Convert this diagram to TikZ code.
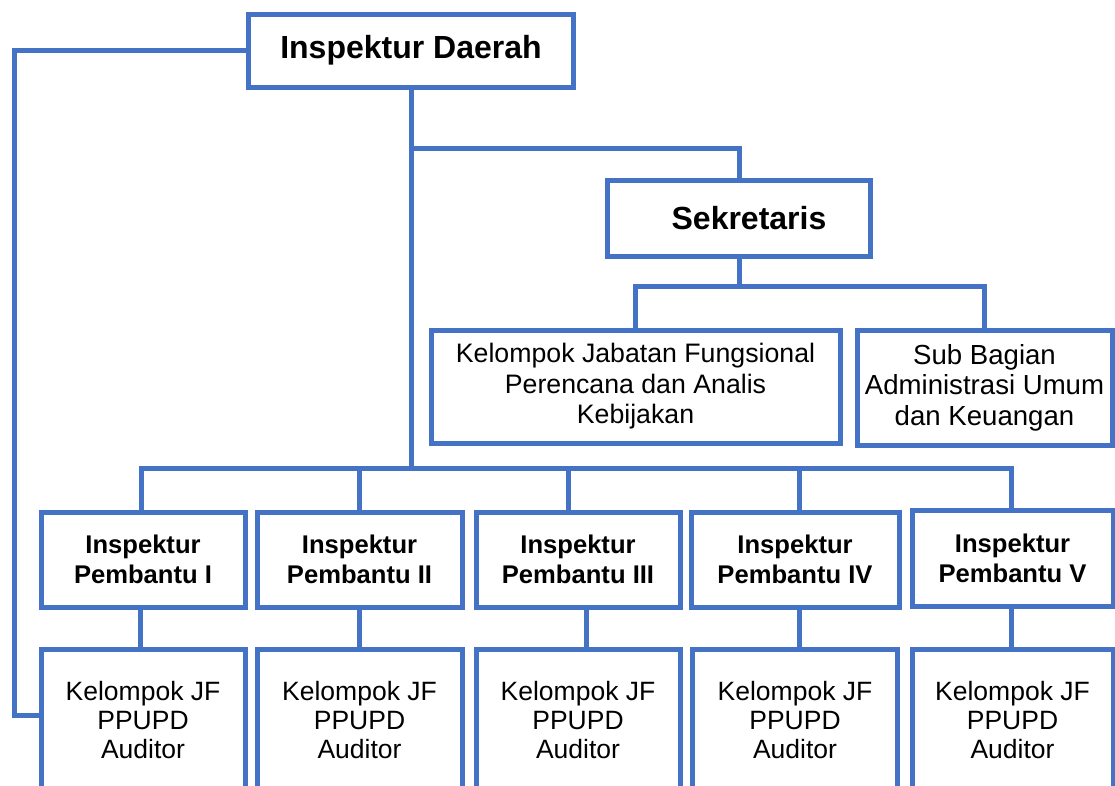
\documentclass[tikz,border=0pt]{standalone}
\usepackage{fontspec}
\setmainfont{Liberation Sans}
\definecolor{orgblue}{HTML}{4472C4}

\begin{document}
\begin{tikzpicture}[x=1pt, y=-1pt,
            unit/.style={draw=orgblue, line width=5pt, inner sep=0pt, align=center, fill=white},
            head/.style={unit, font=\bfseries\fontsize{32}{36}\selectfont},
            staff/.style={unit, font=\fontsize{26.7}{30.5}\selectfont},
            wing/.style={unit, minimum width=204pt, minimum height=95pt, font=\bfseries\fontsize{25.6}{30}\selectfont},
            group/.style={unit, minimum height=142pt, font=\fontsize{26.5}{29}\selectfont},
            link/.style={draw=orgblue, line width=5pt}]
    \useasboundingbox (0,0) rectangle (1115,785);
    \clip (0,0) rectangle (1115,785);
    % top and secretariat
    \node (daerah) at (411,50.5) [head, minimum width=325pt, minimum height=73pt] {Inspektur Daerah};
    \node (sek) at (739,218.5) [head, minimum width=263pt, minimum height=76pt] {\hspace*{20pt}Sekretaris};
    \node (kjf) at (635.5,386.5) [staff, minimum width=409pt, minimum height=113pt] {Kelompok Jabatan Fungsional\\Perencana dan Analis\\Kebijakan};
    \node (subbag) at (984.5,387.5) [staff, minimum width=255pt, minimum height=115pt, font=\fontsize{27.6}{30.5}\selectfont] {Sub Bagian\\Administrasi Umum\\dan Keuangan};
    % inspektur pembantu
    \node (p1) at (143,559.5) [wing] {Inspektur\\Pembantu I};
    \node (p2) at (359.5,559.5) [wing, minimum width=205pt] {Inspektur\\Pembantu II};
    \node (p3) at (578,559.5) [wing] {Inspektur\\Pembantu III};
    \node (p4) at (795,559.5) [wing, minimum width=208pt] {Inspektur\\Pembantu IV};
    \node (p5) at (1012.5,558) [wing, minimum width=201pt, minimum height=96pt] {Inspektur\\Pembantu V};
    % kelompok jf
    \node (jf1) at (143,720) [group, minimum width=204pt] {Kelompok JF\\PPUPD\\Auditor};
    \node (jf2) at (359.5,720) [group, minimum width=205pt] {Kelompok JF\\PPUPD\\Auditor};
    \node (jf3) at (578,720) [group, minimum width=204pt] {Kelompok JF\\PPUPD\\Auditor};
    \node (jf4) at (795,720) [group, minimum width=205pt] {Kelompok JF\\PPUPD\\Auditor};
    \node (jf5) at (1012.5,720) [group, minimum width=201pt] {Kelompok JF\\PPUPD\\Auditor};
    % connectors
    \coordinate (corner) at (14,715);
    \coordinate (trunk) at (411,468);
    \coordinate (sekfork) at (411,148);
    \coordinate (staffbus) at (739,286);
    \draw[link] (daerah.west) -| (corner) -- (corner -| jf1.west);
    \draw[link] (daerah.south) -- (trunk);
    \draw[link] (sekfork) -| (sek.north);
    \draw[link] (sek.south) -- (staffbus);
    \draw[link] (kjf.north) |- (staffbus) -| (subbag.north);
    \draw[link] ([xshift=-2pt]p1.north) |- (trunk) -| ([xshift=-1pt]p5.north);
    \draw[link] (p2.north) |- (trunk);
    \draw[link] ([xshift=-10pt]p3.north) |- (trunk);
    \draw[link] ([xshift=4pt]p4.north) |- (trunk);
    \draw[link] ([xshift=-3pt]p1.south) -- ([xshift=-3pt]jf1.north);
    \draw[link] (p2.south) -- (jf2.north);
    \draw[link] ([xshift=8pt]p3.south) -- ([xshift=8pt]jf3.north);
    \draw[link] ([xshift=4pt]p4.south) -- ([xshift=4pt]jf4.north);
    \draw[link] ([xshift=-1pt]p5.south) -- ([xshift=-1pt]jf5.north);
\end{tikzpicture}
\end{document}
